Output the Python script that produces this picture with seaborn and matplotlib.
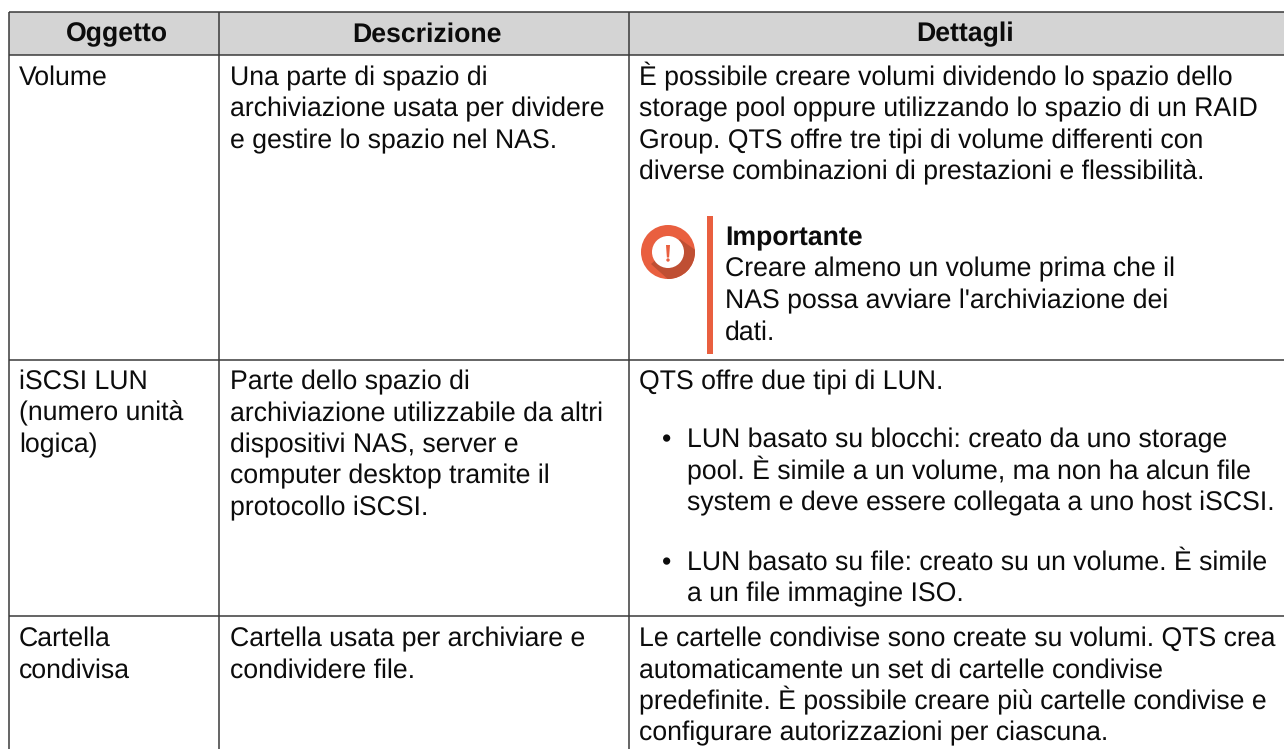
import matplotlib
matplotlib.use('Agg')
import matplotlib.pyplot as plt
from matplotlib.patches import Circle, Polygon, Rectangle
import seaborn as sns

# table text
headers = ['Oggetto', 'Descrizione', 'Dettagli']
col_oggetto = [['Volume'], ['iSCSI LUN', '(numero unità', 'logica)'], ['Cartella', 'condivisa']]
col_descrizione = [
    ['Una parte di spazio di', 'archiviazione usata per dividere', 'e gestire lo spazio nel NAS.'],
    ['Parte dello spazio di', 'archiviazione utilizzabile da altri', 'dispositivi NAS, server e',
     'computer desktop tramite il', 'protocollo iSCSI.'],
    ['Cartella usata per archiviare e', 'condividere file.'],
]
dettagli_volume = ['È possibile creare volumi dividendo lo spazio dello',
                   'storage pool oppure utilizzando lo spazio di un RAID',
                   'Group. QTS offre tre tipi di volume differenti con',
                   'diverse combinazioni di prestazioni e flessibilità.']
nota_titolo = 'Importante'
nota_testo = ['Creare almeno un volume prima che il',
              'NAS possa avviare l\'archiviazione dei',
              'dati.']
dettagli_lun = 'QTS offre due tipi di LUN.'
lun_punto1 = ['LUN basato su blocchi: creato da uno storage',
              'pool. È simile a un volume, ma non ha alcun file',
              'system e deve essere collegata a uno host iSCSI.']
lun_punto2 = ['LUN basato su file: creato su un volume. È simile',
              'a un file immagine ISO.']
dettagli_cartella = ['Le cartelle condivise sono create su volumi. QTS crea',
                     'automaticamente un set di cartelle condivise',
                     'predefinite. È possibile creare più cartelle condivise e',
                     'configurare autorizzazioni per ciascuna.']

sns.set_theme(style='white')
plt.rcParams['font.family'] = ['Liberation Sans', 'DejaVu Sans']
plt.rcParams['text.hinting'] = 'none'

W, H = 1284, 749
FS = 19.2
STEP = 31.5
LINE = '#3a3a3a'
RED = '#e95f3f'
INK = '#0c0c0c'

fig = plt.figure(figsize=(W / 100, H / 100), dpi=100)
ax = fig.add_axes([0, 0, 1, 1])
ax.set_xlim(0, W)
ax.set_ylim(H, 0)
ax.axis('off')

# header band, drawn as a one cell heatmap in its own axes
hdr = fig.add_axes([9 / W, 1 - 55 / H, (W - 9) / W, 43 / H], zorder=0)
sns.heatmap([[0]], ax=hdr, cmap=['#d4d4d4'], cbar=False, xticklabels=False, yticklabels=False)
ax.set_zorder(1)
ax.patch.set_visible(False)

# grid
ax.hlines([12, 55, 359.5, 616], 9, W, color=LINE, lw=1.1)
ax.vlines([9.3, 219.3, 628.5], 12, H, color=LINE, lw=1.1)


def put(x, y, lines, **kw):
    for i, s in enumerate(lines):
        ax.text(x, y + i * STEP, s, fontsize=FS, color=INK, va='baseline', **kw)


for x, s in zip([117, 427, 965], headers):
    ax.text(x, 41.5, s, fontsize=FS, fontweight='bold', color=INK, ha='center', va='baseline')

row_y = [85, 389, 646]
for i, y in enumerate(row_y):
    put(19, y, col_oggetto[i])
    put(230, y, col_descrizione[i])

put(639, 85, dettagli_volume)

# note box
ring = Circle((668, 252), 27, color=RED, lw=0)
ax.add_patch(ring)
shadow = Polygon([[651, 264], [680, 239], [712, 262], [680, 290]], closed=True, color='#bf4f33', lw=0)
ax.add_patch(shadow)
shadow.set_clip_path(ring)
ax.add_patch(Circle((668, 252), 16, color='white', lw=0))
ax.add_patch(Polygon([[666, 245], [670, 245], [669.1, 257.5], [666.9, 257.5]], closed=True, color=RED, lw=0))
ax.add_patch(Circle((668, 260), 1.7, color=RED, lw=0))
ax.add_patch(Rectangle((707, 216), 6, 138, color=RED, lw=0))
ax.text(725, 245, nota_titolo, fontsize=FS, fontweight='bold', color=INK, va='baseline')
put(725, 276.5, nota_testo)

put(639, 389, [dettagli_lun])
for y, punto in [(447.5, lun_punto1), (570, lun_punto2)]:
    ax.text(662, y, '•', fontsize=FS, color=INK, va='baseline')
    put(687, y, punto)

put(639, 646, dettagli_cartella)

fig.savefig('out.png', dpi=100)
